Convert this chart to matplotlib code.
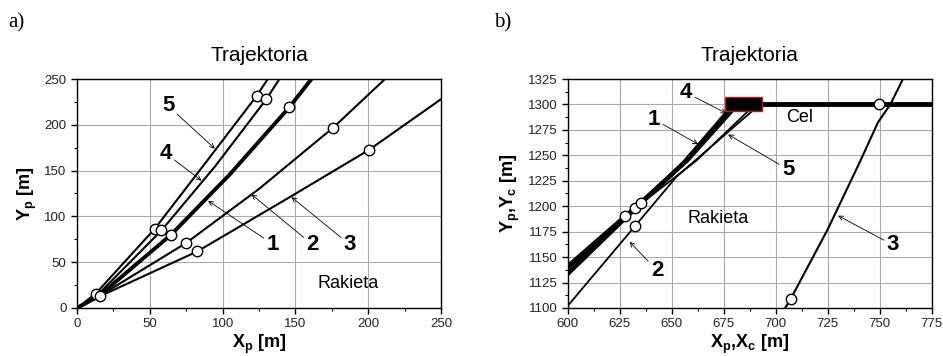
import matplotlib
matplotlib.use("Agg")
import matplotlib.pyplot as plt
from matplotlib.patches import Rectangle
from matplotlib.ticker import MultipleLocator

plt.rcParams['font.family'] = ['Liberation Sans', 'DejaVu Sans']
plt.rcParams['mathtext.fontset'] = 'custom'
plt.rcParams['mathtext.rm'] = 'Liberation Sans'
plt.rcParams['mathtext.bf'] = 'Liberation Sans:bold'

# --- panel a) data: rocket trajectories 1..5 ---
a1_x = [0, 15, 64.6, 105, 145.7, 161]
a1_y = [0, 13, 80, 146, 219, 250]
a2_x = [0, 15, 75, 125, 176, 211.5]
a2_y = [0, 12.7, 71, 130, 197, 250]
a3_x = [0, 15.6, 82.7, 145, 200.5, 250]
a3_y = [0, 12.7, 61.8, 120, 172.6, 228]
a4_x = [0, 14, 58, 95, 130, 139]
a4_y = [0, 14, 84.7, 155, 228, 250]
a5_x = [0, 12.8, 53.4, 88, 123.3, 131]
a5_y = [0, 15.6, 86.5, 158, 231.5, 250]
a_mark_x = [12.8, 15.6, 53.4, 58, 64.6, 75, 82.7, 123.3, 130, 145.7, 176, 200.5]
a_mark_y = [15.6, 12.7, 86.5, 84.7, 80, 71, 61.8, 231.5, 228, 219, 197, 172.6]

# --- panel b) data: end phase + target ---
b1_x = [600, 627.5, 656, 677]
b1_y = [1133.5, 1188, 1243, 1293]
b4_x = [600, 632.6, 657.5, 679]
b4_y = [1141, 1199, 1245, 1294]
b5_x = [600, 635.4, 662, 687]
b5_y = [1138, 1202.8, 1245, 1294]
b2_x = [600, 632.6, 652.3, 689]
b2_y = [1102, 1181, 1229, 1294]
b3_x = [704.3, 707.2, 725.1, 740.4, 749.2, 755.1, 761.2]
b3_y = [1099, 1108.8, 1177.6, 1243.2, 1282.5, 1300, 1325]
cel_x = [693, 775]
cel_y = [1300, 1300]
b_mark_x = [627.4, 632.5, 635.4, 632.6, 707.2, 749.5]
b_mark_y = [1190.4, 1198, 1202.8, 1181, 1108.8, 1300.4]

fig = plt.figure(figsize=(9.43, 3.56), dpi=100)
axa = fig.add_axes([0.0817, 0.135, 0.386, 0.643])
axb = fig.add_axes([0.602, 0.135, 0.386, 0.643])

mk = dict(ls='none', marker='o', ms=7.5, mfc='white', mec='black', mew=1.0, zorder=5)


def style(ax):
    ax.grid(True, which='major', color='#aaaaaa', lw=0.8)
    ax.tick_params(which='major', direction='out', length=4, width=1, labelsize=9.5,
                   labelcolor='#222222')
    ax.tick_params(which='minor', direction='out', length=2.5, width=0.8)
    for s in ax.spines.values():
        s.set_linewidth(1.0)
    ax.set_title('Trajektoria', fontsize=15, pad=13)


# panel a
axa.plot(a5_x, a5_y, 'k-', lw=1.5)
axa.plot(a4_x, a4_y, 'k-', lw=1.5)
axa.plot(a1_x, a1_y, 'k-', lw=2.8)
axa.plot(a2_x, a2_y, 'k-', lw=1.5)
axa.plot(a3_x, a3_y, 'k-', lw=1.5)
axa.plot(a_mark_x, a_mark_y, **mk)
axa.set_xlim(0, 250)
axa.set_ylim(0, 250)
axa.xaxis.set_major_locator(MultipleLocator(50))
axa.xaxis.set_minor_locator(MultipleLocator(25))
axa.yaxis.set_major_locator(MultipleLocator(50))
axa.yaxis.set_minor_locator(MultipleLocator(25))
style(axa)
axa.set_xlabel(r'$\mathbf{X_p}$ [m]', fontsize=13, fontweight='bold', labelpad=2)
axa.set_ylabel(r'$\mathbf{Y_p}$ [m]', fontsize=13, fontweight='bold', labelpad=4)

arr = dict(arrowstyle='->', color='black', lw=0.6, shrinkA=0, shrinkB=0, mutation_scale=8)
lab = dict(fontsize=16, fontweight='bold', ha='center', va='center')
axa.annotate('5', xy=(94.6, 174), xytext=(62.6, 220.6), arrowprops=arr, **lab)
axa.annotate('4', xy=(85.5, 139), xytext=(60.7, 169), arrowprops=arr, **lab)
axa.annotate('1', xy=(90, 117), xytext=(134.3, 69.8), arrowprops=arr, **lab)
axa.annotate('2', xy=(119.8, 124), xytext=(161.8, 69), arrowprops=arr, **lab)
axa.annotate('3', xy=(147.3, 121), xytext=(187.4, 69), arrowprops=arr, **lab)
axa.text(186, 27, 'Rakieta', fontsize=13, ha='center', va='center')

# panel b
axb.plot(b1_x, b1_y, 'k-', lw=3.2)
axb.plot(b4_x, b4_y, 'k-', lw=3.0)
axb.plot(b5_x, b5_y, 'k-', lw=1.3)
axb.plot(b2_x, b2_y, 'k-', lw=1.3)
axb.plot(b3_x, b3_y, 'k-', lw=1.5)
axb.plot(cel_x, cel_y, 'k-', lw=3.5)
axb.add_patch(Rectangle((675.5, 1294), 17.9, 13, facecolor='black', edgecolor='#b22222',
                        lw=1.0, zorder=4))
axb.plot(b_mark_x, b_mark_y, **mk)
axb.set_xlim(600, 775)
axb.set_ylim(1100, 1325)
axb.xaxis.set_major_locator(MultipleLocator(25))
axb.xaxis.set_minor_locator(MultipleLocator(12.5))
axb.yaxis.set_major_locator(MultipleLocator(25))
axb.yaxis.set_minor_locator(MultipleLocator(12.5))
style(axb)
axb.set_xlabel(r'$\mathbf{X_p}$,$\mathbf{X_c}$ [m]', fontsize=13, fontweight='bold', labelpad=2)
axb.set_ylabel(r'$\mathbf{Y_p}$,$\mathbf{Y_c}$ [m]', fontsize=13, fontweight='bold', labelpad=4)

axb.annotate('4', xy=(676.3, 1291.3), xytext=(657, 1311.5), arrowprops=arr, **lab)
axb.annotate('1', xy=(662.7, 1261), xytext=(641.5, 1285.4), arrowprops=arr, **lab)
axb.annotate('5', xy=(677.1, 1270.5), xytext=(706, 1236), arrowprops=arr, **lab)
axb.annotate('2', xy=(629.8, 1165), xytext=(643, 1136.7), arrowprops=arr, **lab)
axb.annotate('3', xy=(730, 1190.7), xytext=(756.4, 1161.9), arrowprops=arr, **lab)
axb.text(711.5, 1287.3, 'Cel', fontsize=13, ha='center', va='center')
axb.text(672.3, 1188, 'Rakieta', fontsize=13, ha='center', va='center')

fig.text(8 / 943, 1 - 23 / 356, 'a)', family='Liberation Serif', fontsize=15, va='center')
fig.text(494 / 943, 1 - 23 / 356, 'b)', family='Liberation Serif', fontsize=15, va='center')

fig.savefig('out.png', dpi=100)
